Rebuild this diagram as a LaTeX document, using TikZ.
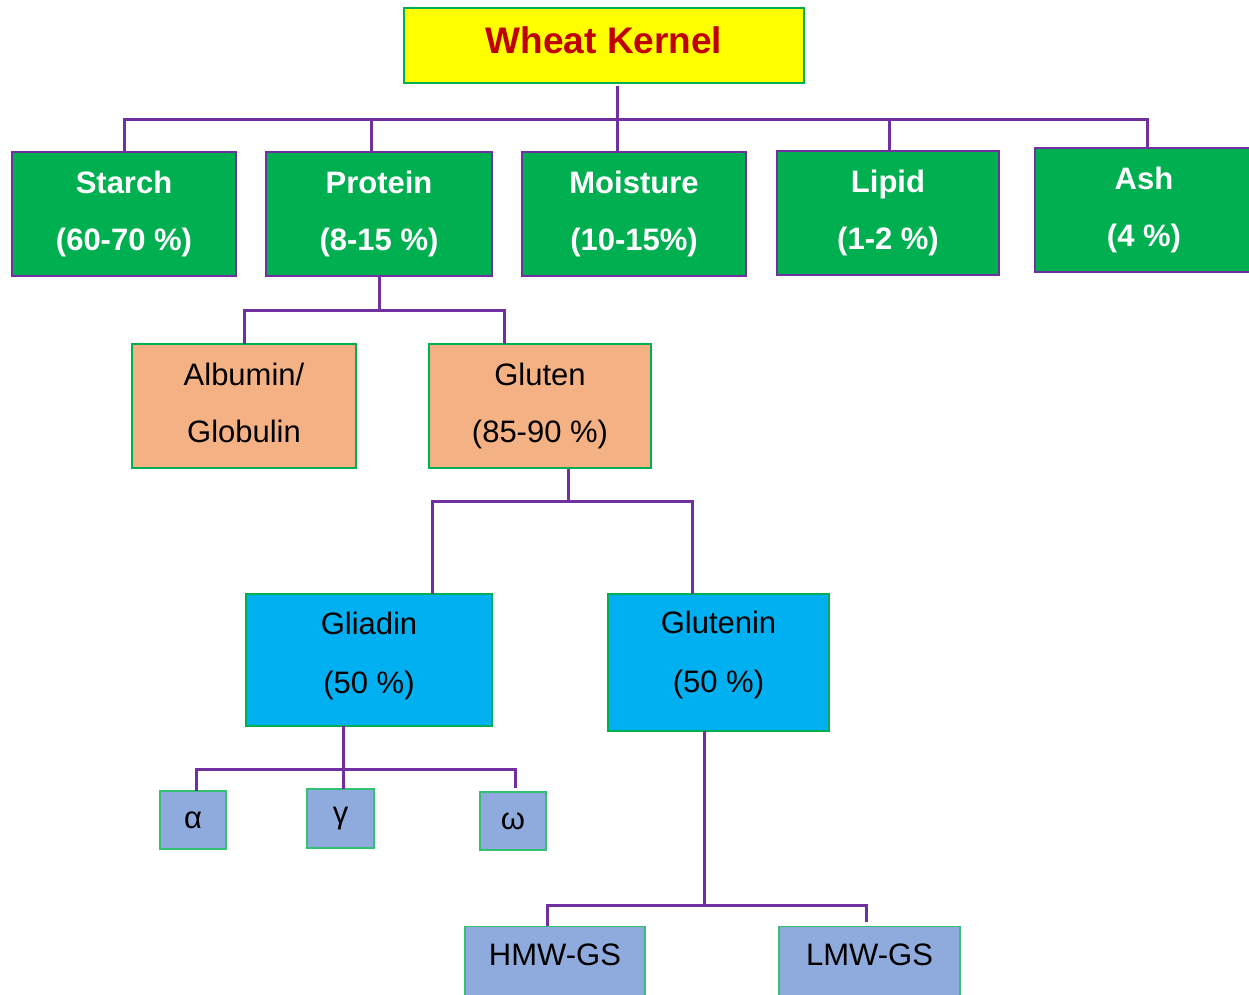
\documentclass[tikz,border=0pt]{standalone}
\usepackage{fontspec}
\setmainfont{Liberation Sans}
\definecolor{kgreen}{HTML}{00B050}
\definecolor{kpurple}{HTML}{7030A0}
\definecolor{kyellow}{HTML}{FFFF00}
\definecolor{kred}{HTML}{C00000}
\definecolor{kpeach}{HTML}{F4B183}
\definecolor{kblue}{HTML}{00B0F0}
\definecolor{klav}{HTML}{8FAADC}
\tikzset{
  box/.style={draw, line width=1.2pt, inner sep=0pt, align=center},
  topbox/.style={box, fill=kyellow, draw=kgreen, text=kred, font=\fontsize{37}{44}\selectfont\bfseries},
  compbox/.style={box, fill=kgreen, draw=kpurple, text=white, font=\fontsize{31}{57}\selectfont\bfseries},
  protbox/.style={box, fill=kpeach, draw=kgreen, font=\fontsize{31}{57}\selectfont},
  glubox/.style={box, fill=kblue, draw=kgreen, font=\fontsize{31}{59}\selectfont},
  subbox/.style={box, fill=klav, draw=kgreen!80!white, font=\fontsize{31}{37}\selectfont},
  conn/.style={draw=kpurple, line width=3pt},
}
\begin{document}
\begin{tikzpicture}[x=1pt, y=-1pt]
\useasboundingbox (0,0) rectangle (1249,994);
\clip (0,0) rectangle (1249,994);
% top
\node[topbox, minimum width=400pt, minimum height=75pt, text depth=10pt] (wk) at (604,45.5) {Wheat Kernel};
% components
\node[compbox, minimum width=224pt, minimum height=124pt] (starch) at (124,214) {Starch\\(60-70 \%)};
\node[compbox, minimum width=226pt, minimum height=124pt] (protein) at (379,214) {Protein\\(8-15 \%)};
\node[compbox, minimum width=224pt, minimum height=124pt] (moist) at (634,214) {Moisture\\(10-15\%)};
\node[compbox, minimum width=222pt, minimum height=124pt] (lipid) at (888,213) {Lipid\\(1-2 \%)};
\node[compbox, minimum width=218pt, minimum height=124pt] (ash) at (1144,210) {Ash\\(4 \%)};
% proteins
\node[protbox, minimum width=224pt, minimum height=124pt, text depth=6pt] (alb) at (244,406) {Albumin/\\Globulin};
\node[protbox, minimum width=222pt, minimum height=124pt] (glu) at (540,406) {Gluten\\(85-90 \%)};
% gluten parts
\node[glubox, minimum width=246pt, minimum height=132pt, text depth=14.5pt] (gli) at (369,660) {Gliadin\\(50 \%)};
\node[glubox, minimum width=221pt, minimum height=137pt, text depth=20.5pt] (glt) at (718.5,662.5) {Glutenin\\(50 \%)};
% gliadin subtypes
\node[subbox, minimum width=66pt, minimum height=58pt] (alpha) at (193,820) {α};
\node[subbox, minimum width=67pt, minimum height=59pt] (gamma) at (340.5,818.5) {γ};
\node[subbox, minimum width=66pt, minimum height=58pt] (omega) at (513,821) {ω};
% glutenin subunits
\node[subbox, minimum width=180pt, minimum height=80pt, anchor=north] (hmw) at (555,926) {};
\node[font=\fontsize{31}{37}\selectfont] (hmwt) at (555,955) {HMW-GS};
\node[subbox, minimum width=181pt, minimum height=80pt, anchor=north] (lmw) at (869.5,926) {};
\node[font=\fontsize{31}{37}\selectfont] (lmwt) at (869.5,955) {LMW-GS};
% junction coordinates
\coordinate (j1) at (617,119);
\coordinate (j2) at (379,310);
\coordinate (j3) at (568,501);
\coordinate (j4) at (343,769);
\coordinate (j5) at (704,905);
% connectors
\draw[conn] (617,86) -- (j1);
\draw[conn] (124,152) |- (j1) -| (1147,148);
\draw[conn] (371,119) -- (371,152);
\draw[conn] (j1) -- (617,152);
\draw[conn] (889,119) -- (889,151);
\draw[conn] (protein.south) -- (j2);
\draw[conn] (244,344) |- (j2) -| (504,344);
\draw[conn] (glu.south -| j3) -- (j3);
\draw[conn] (432,594) |- (j3) -| (692,594);
\draw[conn] (343,726) -- (343,789);
\draw[conn] (196,791) |- (j4) -| (515,788);
\draw[conn] (704,731) -- (j5);
\draw[conn] (547,926) |- (j5) -| (866,922);
\end{tikzpicture}
\end{document}
